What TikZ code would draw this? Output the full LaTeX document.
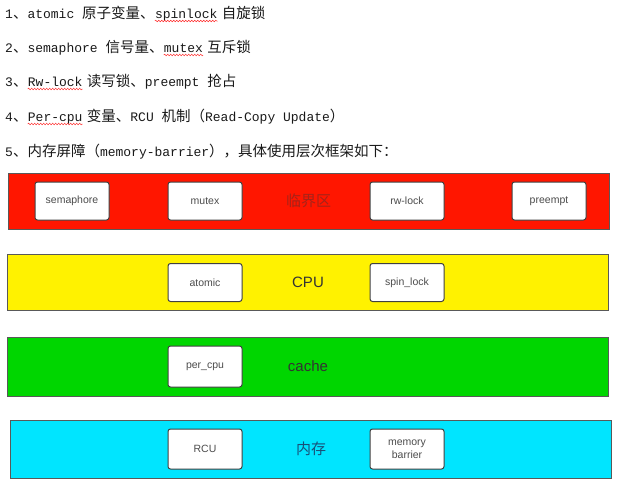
\documentclass[tikz,border=0pt]{standalone}
\usepackage{fontspec}
\setmainfont{Liberation Serif}
\setsansfont{Liberation Sans}
\setmonofont{Liberation Mono}
\newfontfamily\cjkfont{Noto Sans CJK SC}
\newcommand\zh[1]{{\fontsize{14.5}{16}\selectfont\cjkfont #1}}
\usetikzlibrary{positioning,decorations.pathmorphing}
\definecolor{critred}{RGB}{255,22,0}
\definecolor{critlabel}{RGB}{165,35,25}
\definecolor{cpuyellow}{RGB}{255,242,0}
\definecolor{cachegreen}{RGB}{0,214,0}
\definecolor{memcyan}{RGB}{0,229,255}
\definecolor{memlabel}{RGB}{25,80,120}

\begin{document}
\begin{tikzpicture}[x=1pt,y=-1pt,
  line/.style={inner sep=0,anchor=base west,font=\fontsize{13}{15}\ttfamily,text=black!90},
  wavy/.style={draw=red!85,line width=0.5pt,decorate,decoration={snake,amplitude=0.8pt,segment length=3pt}},
  band/.style={draw=black!65,line width=0.7pt,minimum width=601pt,minimum height=56pt,inner sep=0,font=\fontsize{15}{18}\sffamily,text=black!80},
  box/.style={draw=black!75,fill=white,line width=1pt,rounded corners=2.5pt,minimum width=74pt,minimum height=38pt,inner sep=1pt,align=center,font=\fontsize{10.5}{12.5}\sffamily,text=black!70}]

\useasboundingbox (0,0) rectangle (632,490);

% text lines
\node[line] (l1a) at (5,18) {1\zh{、}atomic \zh{原子变量、}};
\node[line] (l1b) at (l1a.base east) {spinlock};
\node[line] (l1c) at ([xshift=4pt]l1b.base east) {\zh{自旋锁}};

\node[line] (l2a) at (5,52) {2\zh{、}semaphore \zh{信号量、}};
\node[line] (l2b) at (l2a.base east) {mutex};
\node[line] (l2c) at ([xshift=4pt]l2b.base east) {\zh{互斥锁}};

\node[line] (l3a) at (5,86) {3\zh{、}};
\node[line] (l3b) at (l3a.base east) {Rw-lock};
\node[line] (l3c) at ([xshift=4pt]l3b.base east) {\zh{读写锁、}preempt \zh{抢占}};

\node[line] (l4a) at (5,121) {4\zh{、}};
\node[line] (l4b) at (l4a.base east) {Per-cpu};
\node[line] (l4c) at ([xshift=4pt]l4b.base east) {\zh{变量、}RCU \zh{机制（}Read-Copy Update\zh{）}};

\node[line] (l5a) at (5,156) {5\zh{、内存屏障（}memory-barrier\zh{），具体使用层次框架如下：}};

\foreach \w in {l1b,l2b,l3b,l4b}
  \draw[wavy] ([yshift=-3pt]\w.base west) -- ([yshift=-3pt]\w.base east);

% bands
\node[band,fill=critred,text=critlabel] (crit) at (308.5,201) {\cjkfont 临界区};
\node[band,fill=cpuyellow] (cpu) at (308,282.5) {CPU};
\node[band,fill=cachegreen,minimum height=59pt] (cache) at (308,366.5) {cache};
\node[band,fill=memcyan,minimum height=58pt,text=memlabel] (mem) at (311,449) {\cjkfont 内存};

% boxes
\node[box] (sem) at (72,201) {semaphore};
\node[box,right=58pt of sem] (mutex) {mutex};
\node[box,right=127pt of mutex] (rwlock) {rw-lock};
\node[box,right=67pt of rwlock] (preempt) {preempt};

\node[box] (atomic) at (mutex |- cpu) {atomic};
\node[box] (spin) at (rwlock |- cpu) {spin\_lock};

\node[box,minimum height=41pt] (percpu) at (mutex |- cache) {per\_cpu};

\node[box,minimum height=40pt] (rcu) at (mutex |- mem) {RCU};
\node[box,minimum height=40pt] (membar) at (rwlock |- mem) {memory\\barrier};

\end{tikzpicture}
\end{document}
